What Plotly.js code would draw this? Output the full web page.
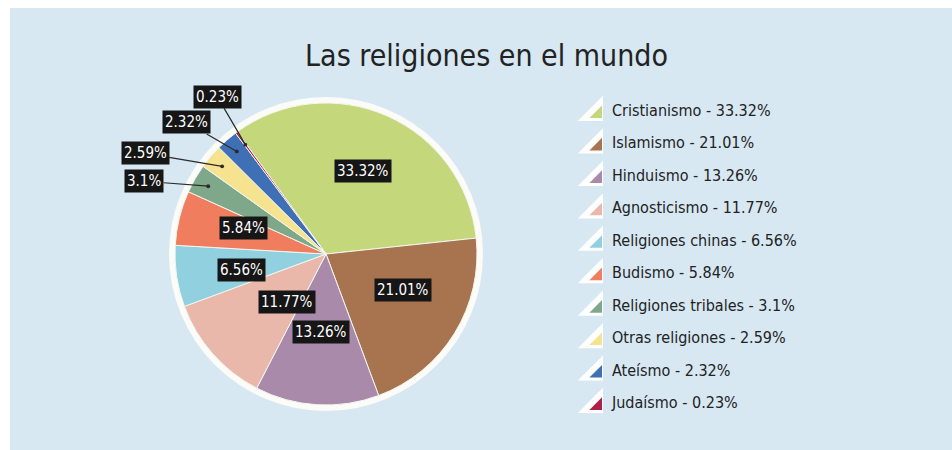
<!DOCTYPE html>
<html>
<head>
<meta charset="utf-8">
<script src="https://cdn.plot.ly/plotly-3.0.1.min.js"></script>
<style>html,body{margin:0;padding:0;background:#fff;}#chart{width:952px;height:450px;}</style>
</head>
<body>
<div id="chart"></div>
<script>
// ---- data ----
const categories = ["Cristianismo", "Islamismo", "Hinduismo", "Agnosticismo", "Religiones chinas",
  "Budismo", "Religiones tribales", "Otras religiones", "Ateísmo", "Judaísmo"];
const values = [33.32, 21.01, 13.26, 11.77, 6.56, 5.84, 3.1, 2.59, 2.32, 0.23];
const sliceColors = ["#c4d77b", "#a8744f", "#a98aab", "#e9b8ab", "#90d0df",
  "#f07d5d", "#7fa88a", "#f6e38f", "#3f70b6", "#b01f4a"];
const outsideLabels = [false, false, false, false, false, false, true, true, true, true];
// label offsets for the outside (leader-line) labels, in pixels
const outsideOffsets = {6: [-64, -5], 7: [-77, -13], 8: [-50, -29], 9: [-28, -48]};

const W = 952, H = 450;
const FONT = "DejaVu Sans Condensed, Liberation Sans Narrow, sans-serif";
const ROT = -36;
const pieDomain = {x: [(326 - 151) / W, (326 + 151) / W], y: [(196 - 151) / H, (196 + 151) / H]};

// geometry of the pie in paper units
const cxP = (pieDomain.x[0] + pieDomain.x[1]) / 2;
const cyP = (pieDomain.y[0] + pieDomain.y[1]) / 2;
const Rpx = Math.min((pieDomain.x[1] - pieDomain.x[0]) * W, (pieDomain.y[1] - pieDomain.y[0]) * H) / 2;
const total = values.reduce((a, b) => a + b, 0);

const annotations = [];
let acc = 0;
values.forEach((v, i) => {
  const mid = (ROT + 360 * (acc + v / 2) / total) * Math.PI / 180;
  acc += v;
  const frac = outsideLabels[i] ? 0.9 : (v > 10 ? 0.6 : 0.73);
  const x = cxP + frac * Rpx * Math.sin(mid) / W;
  const y = cyP + frac * Rpx * Math.cos(mid) / H;
  const a = {
    x: x, y: y, xref: "paper", yref: "paper",
    text: v + "%",
    font: {family: FONT, size: 15, color: "#ffffff"},
    bgcolor: "#161616", borderpad: 2,
    showarrow: false
  };
  if (outsideLabels[i]) {
    a.showarrow = true;
    a.ax = outsideOffsets[i][0];
    a.ay = outsideOffsets[i][1];
    a.arrowhead = 6; a.arrowsize = 0.8; a.arrowwidth = 1.2;
    a.arrowcolor = "#2a2a2a"; a.standoff = 0;
  }
  annotations.push(a);
});

const idx = categories.map((c, i) => i);
const legendText = categories.map((c, i) => c + " - " + values[i] + "%");

const pie = {
  type: "pie", values: values, labels: categories, sort: false,
  direction: "clockwise", rotation: ROT,
  marker: {colors: sliceColors, line: {color: "#f4f6f0", width: 1}},
  textinfo: "none", hoverinfo: "label+percent", showlegend: false,
  domain: pieDomain
};
const iconBack = {
  type: "scatter", mode: "markers", x: idx.map(() => 594.6), y: idx.map(i => i + 0.02),
  marker: {symbol: "triangle-se", size: 28, color: "#ffffff", line: {width: 0}},
  hoverinfo: "skip", showlegend: false, xaxis: "x", yaxis: "y"
};
const iconFront = {
  type: "scatter", mode: "markers", x: idx.map(() => 597.8), y: idx.map(i => i + 0.055),
  marker: {symbol: "triangle-se", size: 14, color: sliceColors, line: {width: 0}},
  hoverinfo: "skip", showlegend: false, xaxis: "x", yaxis: "y"
};
const legendLabels = {
  type: "scatter", mode: "text", x: idx.map(() => 612), y: idx, text: legendText,
  textposition: "middle right", textfont: {family: FONT, size: 16, color: "#222222"},
  hoverinfo: "skip", showlegend: false, xaxis: "x", yaxis: "y"
};

const layout = {
  width: W, height: H, margin: {l: 0, r: 0, t: 0, b: 0},
  paper_bgcolor: "#ffffff", plot_bgcolor: "rgba(0,0,0,0)",
  showlegend: false,
  title: {text: "Las religiones en el mundo", x: 486.5 / W, xanchor: "center",
    y: 1 - 55 / H, yanchor: "middle", yref: "paper",
    font: {family: FONT, size: 30, color: "#222222"}},
  xaxis: {domain: [0, 1], range: [0, W], visible: false, fixedrange: true},
  yaxis: {domain: [1 - 420.2 / H, 1 - 95.8 / H], range: [9.5, -0.5], visible: false, fixedrange: true},
  shapes: [
    {type: "rect", xref: "paper", yref: "paper", x0: 10 / W, x1: 1, y0: 0, y1: 1 - 8 / H,
      fillcolor: "#d7e8f3", line: {width: 0}, layer: "below"},
    {type: "circle", xref: "paper", yref: "paper",
      x0: cxP - 157 / W, x1: cxP + 157 / W, y0: cyP - 157 / H, y1: cyP + 157 / H,
      fillcolor: "#fbfbf8", line: {width: 0}, layer: "below"}
  ],
  annotations: annotations
};

Plotly.newPlot("chart", [iconBack, iconFront, legendLabels, pie], layout, {displayModeBar: false, staticPlot: true});
</script>
</body>
</html>
